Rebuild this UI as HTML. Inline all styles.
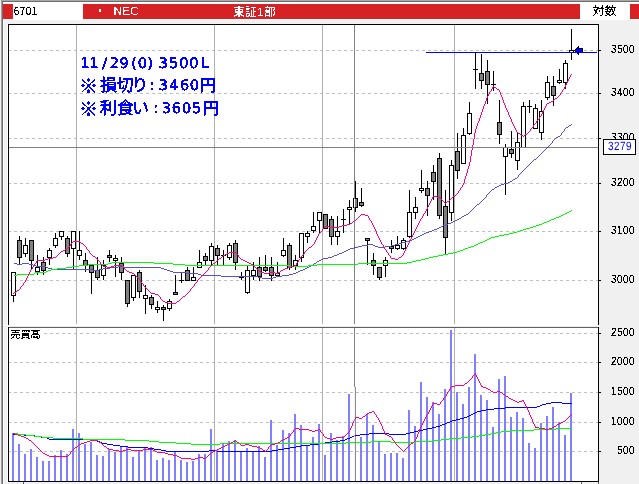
<!DOCTYPE html>
<html lang="ja"><head><meta charset="utf-8"><title>6701 NEC</title>
<style>html,body{margin:0;padding:0;background:#f0f0f0;overflow:hidden}svg{display:block}text{font-family:"Liberation Sans","Noto Sans CJK JP",sans-serif}.ax{font-size:12px;fill:#000}.big{fill:#0000ff;stroke:#0000ff;stroke-linejoin:round}</style></head><body>
<svg width="639" height="484" viewBox="0 0 639 484" shape-rendering="crispEdges">
<defs><filter id="th" x="0" y="0" width="100%" height="100%" filterUnits="userSpaceOnUse" color-interpolation-filters="sRGB"><feComponentTransfer><feFuncA type="discrete" tableValues="0 0 1 1 1"/></feComponentTransfer></filter><filter id="th2" x="0" y="0" width="100%" height="100%" filterUnits="userSpaceOnUse" color-interpolation-filters="sRGB"><feComponentTransfer><feFuncA type="discrete" tableValues="0 1"/></feComponentTransfer></filter></defs>
<rect x="0" y="0" width="639" height="484" fill="#f0f0f0"/>
<rect x="0" y="0" width="639" height="1" fill="#a8a8a8"/>
<rect x="0" y="1" width="639" height="1" fill="#6e6e6e"/>
<rect x="0" y="2" width="639" height="18" fill="#ffffff"/>
<rect x="0" y="0" width="1" height="484" fill="#efefef"/>
<rect x="1" y="0" width="1" height="484" fill="#a0a0a0"/>
<rect x="2" y="1" width="1" height="484" fill="#6e6e6e"/>
<rect x="3" y="2" width="1" height="484" fill="#fafafa"/>
<rect x="3" y="4" width="10" height="15" fill="#d62224"/>
<rect x="83" y="4" width="497" height="15" fill="#d62224"/>
<rect x="630" y="4" width="9" height="15" fill="#d62224"/>
<rect x="7" y="25" width="591" height="456" fill="#ffffff"/>
<rect x="3" y="325" width="596" height="1" fill="#ffffff"/>
<rect x="3" y="326" width="596" height="1" fill="#ececec"/>
<line x1="8" y1="50.5" x2="598" y2="50.5" stroke="#c0c0c0" stroke-width="1" stroke-dasharray="3 3"/>
<line x1="8" y1="93.5" x2="598" y2="93.5" stroke="#c0c0c0" stroke-width="1" stroke-dasharray="3 3"/>
<line x1="8" y1="138.5" x2="598" y2="138.5" stroke="#c0c0c0" stroke-width="1" stroke-dasharray="3 3"/>
<line x1="8" y1="183.5" x2="598" y2="183.5" stroke="#c0c0c0" stroke-width="1" stroke-dasharray="3 3"/>
<line x1="8" y1="231.5" x2="598" y2="231.5" stroke="#c0c0c0" stroke-width="1" stroke-dasharray="3 3"/>
<line x1="8" y1="280.5" x2="598" y2="280.5" stroke="#c0c0c0" stroke-width="1" stroke-dasharray="3 3"/>
<line x1="8" y1="333.5" x2="598" y2="333.5" stroke="#c0c0c0" stroke-width="1" stroke-dasharray="3 3"/>
<line x1="8" y1="362.5" x2="598" y2="362.5" stroke="#c0c0c0" stroke-width="1" stroke-dasharray="3 3"/>
<line x1="8" y1="392.5" x2="598" y2="392.5" stroke="#c0c0c0" stroke-width="1" stroke-dasharray="3 3"/>
<line x1="8" y1="422.5" x2="598" y2="422.5" stroke="#c0c0c0" stroke-width="1" stroke-dasharray="3 3"/>
<line x1="8" y1="451.5" x2="598" y2="451.5" stroke="#c0c0c0" stroke-width="1" stroke-dasharray="3 3"/>
<rect x="76" y="25" width="1" height="299" fill="#b0b0b0"/>
<rect x="76" y="328" width="1" height="153" fill="#b0b0b0"/>
<rect x="214" y="25" width="1" height="299" fill="#b0b0b0"/>
<rect x="214" y="328" width="1" height="153" fill="#b0b0b0"/>
<rect x="322" y="25" width="1" height="299" fill="#b0b0b0"/>
<rect x="322" y="328" width="1" height="153" fill="#b0b0b0"/>
<rect x="454" y="25" width="1" height="299" fill="#b0b0b0"/>
<rect x="454" y="328" width="1" height="153" fill="#b0b0b0"/>
<rect x="12" y="433" width="2" height="48" fill="#8080ff"/>
<rect x="18" y="444" width="2" height="37" fill="#8080ff"/>
<rect x="24" y="454" width="2" height="27" fill="#8080ff"/>
<rect x="30" y="449" width="2" height="32" fill="#8080ff"/>
<rect x="36" y="457" width="2" height="24" fill="#8080ff"/>
<rect x="42" y="461" width="2" height="20" fill="#8080ff"/>
<rect x="48" y="461" width="2" height="20" fill="#8080ff"/>
<rect x="54" y="455" width="2" height="26" fill="#8080ff"/>
<rect x="60" y="450" width="2" height="31" fill="#8080ff"/>
<rect x="66" y="454" width="2" height="27" fill="#8080ff"/>
<rect x="72" y="429" width="2" height="52" fill="#8080ff"/>
<rect x="78" y="433" width="2" height="48" fill="#8080ff"/>
<rect x="84" y="444" width="2" height="37" fill="#8080ff"/>
<rect x="90" y="442" width="2" height="39" fill="#8080ff"/>
<rect x="96" y="455" width="2" height="26" fill="#8080ff"/>
<rect x="102" y="456" width="2" height="25" fill="#8080ff"/>
<rect x="108" y="449" width="2" height="32" fill="#8080ff"/>
<rect x="114" y="452" width="2" height="29" fill="#8080ff"/>
<rect x="120" y="447" width="2" height="34" fill="#8080ff"/>
<rect x="126" y="447" width="2" height="34" fill="#8080ff"/>
<rect x="132" y="457" width="2" height="24" fill="#8080ff"/>
<rect x="138" y="450" width="2" height="31" fill="#8080ff"/>
<rect x="144" y="448" width="2" height="33" fill="#8080ff"/>
<rect x="150" y="447" width="2" height="34" fill="#8080ff"/>
<rect x="156" y="460" width="2" height="21" fill="#8080ff"/>
<rect x="162" y="458" width="2" height="23" fill="#8080ff"/>
<rect x="168" y="460" width="2" height="21" fill="#8080ff"/>
<rect x="174" y="452" width="2" height="29" fill="#8080ff"/>
<rect x="180" y="460" width="2" height="21" fill="#8080ff"/>
<rect x="186" y="462" width="2" height="19" fill="#8080ff"/>
<rect x="192" y="461" width="2" height="20" fill="#8080ff"/>
<rect x="198" y="454" width="2" height="27" fill="#8080ff"/>
<rect x="204" y="454" width="2" height="27" fill="#8080ff"/>
<rect x="210" y="429" width="2" height="52" fill="#8080ff"/>
<rect x="216" y="450" width="2" height="31" fill="#8080ff"/>
<rect x="222" y="444" width="2" height="37" fill="#8080ff"/>
<rect x="228" y="441" width="2" height="40" fill="#8080ff"/>
<rect x="234" y="440" width="2" height="41" fill="#8080ff"/>
<rect x="240" y="452" width="2" height="29" fill="#8080ff"/>
<rect x="246" y="448" width="2" height="33" fill="#8080ff"/>
<rect x="252" y="452" width="2" height="29" fill="#8080ff"/>
<rect x="258" y="446" width="2" height="35" fill="#8080ff"/>
<rect x="264" y="457" width="2" height="24" fill="#8080ff"/>
<rect x="270" y="420" width="2" height="61" fill="#8080ff"/>
<rect x="276" y="445" width="2" height="36" fill="#8080ff"/>
<rect x="282" y="430" width="2" height="51" fill="#8080ff"/>
<rect x="288" y="433" width="2" height="48" fill="#8080ff"/>
<rect x="294" y="414" width="2" height="67" fill="#8080ff"/>
<rect x="300" y="425" width="2" height="56" fill="#8080ff"/>
<rect x="306" y="446" width="2" height="35" fill="#8080ff"/>
<rect x="312" y="437" width="2" height="44" fill="#8080ff"/>
<rect x="318" y="424" width="2" height="57" fill="#8080ff"/>
<rect x="324" y="455" width="2" height="26" fill="#8080ff"/>
<rect x="330" y="433" width="2" height="48" fill="#8080ff"/>
<rect x="336" y="440" width="2" height="41" fill="#8080ff"/>
<rect x="342" y="436" width="2" height="45" fill="#8080ff"/>
<rect x="348" y="394" width="2" height="87" fill="#8080ff"/>
<rect x="354" y="387" width="2" height="94" fill="#8080ff"/>
<rect x="360" y="437" width="2" height="44" fill="#8080ff"/>
<rect x="366" y="414" width="2" height="67" fill="#8080ff"/>
<rect x="372" y="425" width="2" height="56" fill="#8080ff"/>
<rect x="378" y="442" width="2" height="39" fill="#8080ff"/>
<rect x="384" y="454" width="2" height="27" fill="#8080ff"/>
<rect x="390" y="453" width="2" height="28" fill="#8080ff"/>
<rect x="396" y="453" width="2" height="28" fill="#8080ff"/>
<rect x="402" y="458" width="2" height="23" fill="#8080ff"/>
<rect x="408" y="410" width="2" height="71" fill="#8080ff"/>
<rect x="414" y="426" width="2" height="55" fill="#8080ff"/>
<rect x="420" y="382" width="2" height="99" fill="#8080ff"/>
<rect x="426" y="397" width="2" height="84" fill="#8080ff"/>
<rect x="432" y="402" width="2" height="79" fill="#8080ff"/>
<rect x="438" y="414" width="2" height="67" fill="#8080ff"/>
<rect x="444" y="389" width="2" height="92" fill="#8080ff"/>
<rect x="450" y="330" width="2" height="151" fill="#8080ff"/>
<rect x="456" y="392" width="2" height="89" fill="#8080ff"/>
<rect x="462" y="404" width="2" height="77" fill="#8080ff"/>
<rect x="468" y="387" width="2" height="94" fill="#8080ff"/>
<rect x="474" y="354" width="2" height="127" fill="#8080ff"/>
<rect x="480" y="395" width="2" height="86" fill="#8080ff"/>
<rect x="486" y="400" width="2" height="81" fill="#8080ff"/>
<rect x="492" y="427" width="2" height="54" fill="#8080ff"/>
<rect x="498" y="379" width="2" height="102" fill="#8080ff"/>
<rect x="504" y="376" width="2" height="105" fill="#8080ff"/>
<rect x="510" y="417" width="2" height="64" fill="#8080ff"/>
<rect x="516" y="412" width="2" height="69" fill="#8080ff"/>
<rect x="522" y="418" width="2" height="63" fill="#8080ff"/>
<rect x="528" y="443" width="2" height="38" fill="#8080ff"/>
<rect x="534" y="448" width="2" height="33" fill="#8080ff"/>
<rect x="540" y="423" width="2" height="58" fill="#8080ff"/>
<rect x="546" y="416" width="2" height="65" fill="#8080ff"/>
<rect x="552" y="407" width="2" height="74" fill="#8080ff"/>
<rect x="558" y="422" width="2" height="59" fill="#8080ff"/>
<rect x="564" y="435" width="2" height="46" fill="#8080ff"/>
<rect x="570" y="393" width="2" height="88" fill="#8080ff"/>
<path d="M551 402h11v1h-11zM546 403h5v1h-5zM562 403h10v1h-10zM542 404h4v1h-4zM540 405h2v1h-2zM537 406h3v1h-3zM505 407h32v1h-32zM494 408h11v1h-11zM486 409h8v1h-8zM481 410h5v1h-5zM477 411h4v1h-4zM475 412h2v1h-2zM473 413h2v1h-2zM471 414h2v1h-2zM469 415h2v1h-2zM467 416h2v1h-2zM464 417h3v1h-3zM460 418h4v1h-4zM456 419h4v1h-4zM452 420h4v1h-4zM450 421h2v1h-2zM447 422h3v1h-3zM445 423h2v1h-2zM442 424h3v1h-3zM440 425h2v1h-2zM436 426h4v1h-4zM432 427h4v1h-4zM427 428h5v1h-5zM423 429h4v1h-4zM418 430h5v1h-5zM414 431h4v1h-4zM410 432h4v1h-4zM369 433h20v1h-20zM406 433h4v1h-4zM13 434h11v1h-11zM360 434h9v1h-9zM389 434h17v1h-17zM24 435h11v1h-11zM354 435h6v1h-6zM35 436h6v1h-6zM352 436h2v1h-2zM41 437h6v1h-6zM350 437h2v1h-2zM47 438h2v1h-2zM347 438h3v1h-3zM49 439h45v1h-45zM345 439h2v1h-2zM94 440h3v1h-3zM340 440h5v1h-5zM97 441h3v1h-3zM332 441h8v1h-8zM100 442h2v1h-2zM325 442h7v1h-7zM102 443h5v1h-5zM319 443h6v1h-6zM107 444h6v1h-6zM310 444h9v1h-9zM113 445h7v1h-7zM301 445h9v1h-9zM120 446h8v1h-8zM296 446h5v1h-5zM128 447h20v1h-20zM290 447h6v1h-6zM148 448h6v1h-6zM284 448h6v1h-6zM154 449h7v1h-7zM278 449h6v1h-6zM161 450h5v1h-5zM209 450h8v1h-8zM272 450h6v1h-6zM166 451h43v1h-43zM217 451h55v1h-55z" fill="#0000ff"/>
<path d="M556 428h16v1h-16zM534 429h22v1h-22zM511 430h23v1h-23zM501 431h10v1h-10zM496 432h5v1h-5zM13 433h5v1h-5zM491 433h5v1h-5zM18 434h8v1h-8zM485 434h6v1h-6zM26 435h8v1h-8zM479 435h6v1h-6zM34 436h8v1h-8zM472 436h7v1h-7zM42 437h11v1h-11zM461 437h11v1h-11zM53 438h30v1h-30zM449 438h12v1h-12zM83 439h42v1h-42zM441 439h8v1h-8zM125 440h24v1h-24zM433 440h8v1h-8zM149 441h10v1h-10zM371 441h20v1h-20zM416 441h17v1h-17zM159 442h17v1h-17zM346 442h25v1h-25zM391 442h25v1h-25zM176 443h15v1h-15zM220 443h126v1h-126zM191 444h29v1h-29z" fill="#00ff00"/>
<path d="M475 373h1v1h-1zM474 374h2v1h-2zM473 375h1v1h-1zM476 375h1v1h-1zM472 376h1v1h-1zM476 376h1v1h-1zM472 377h1v1h-1zM477 377h1v1h-1zM471 378h1v1h-1zM477 378h1v1h-1zM470 379h1v1h-1zM478 379h1v1h-1zM469 380h1v1h-1zM478 380h1v1h-1zM468 381h1v1h-1zM479 381h1v1h-1zM467 382h1v1h-1zM479 382h1v1h-1zM465 383h2v1h-2zM480 383h1v1h-1zM464 384h1v1h-1zM480 384h1v1h-1zM455 385h9v1h-9zM481 385h1v1h-1zM451 386h4v1h-4zM481 386h2v1h-2zM450 387h1v1h-1zM483 387h3v1h-3zM450 388h1v1h-1zM486 388h2v1h-2zM449 389h1v1h-1zM488 389h2v1h-2zM449 390h1v1h-1zM490 390h1v1h-1zM448 391h1v1h-1zM491 391h2v1h-2zM497 391h3v1h-3zM447 392h1v1h-1zM493 392h4v1h-4zM500 392h2v1h-2zM447 393h1v1h-1zM502 393h1v1h-1zM446 394h1v1h-1zM503 394h2v1h-2zM446 395h1v1h-1zM505 395h1v1h-1zM445 396h1v1h-1zM506 396h2v1h-2zM444 397h1v1h-1zM508 397h1v1h-1zM443 398h1v1h-1zM509 398h2v1h-2zM443 399h1v1h-1zM511 399h2v1h-2zM442 400h1v1h-1zM513 400h2v1h-2zM522 400h2v1h-2zM441 401h1v1h-1zM515 401h2v1h-2zM519 401h3v1h-3zM523 401h1v1h-1zM440 402h1v1h-1zM517 402h2v1h-2zM524 402h1v1h-1zM433 403h4v1h-4zM440 403h1v1h-1zM524 403h1v1h-1zM432 404h1v1h-1zM437 404h3v1h-3zM525 404h1v1h-1zM432 405h1v1h-1zM525 405h1v1h-1zM431 406h1v1h-1zM526 406h1v1h-1zM431 407h1v1h-1zM526 407h1v1h-1zM430 408h1v1h-1zM527 408h1v1h-1zM430 409h1v1h-1zM527 409h1v1h-1zM429 410h1v1h-1zM528 410h1v1h-1zM372 411h2v1h-2zM429 411h1v1h-1zM528 411h1v1h-1zM369 412h3v1h-3zM374 412h1v1h-1zM428 412h1v1h-1zM529 412h1v1h-1zM367 413h2v1h-2zM374 413h1v1h-1zM428 413h1v1h-1zM529 413h1v1h-1zM366 414h1v1h-1zM375 414h1v1h-1zM427 414h1v1h-1zM529 414h1v1h-1zM571 414h1v1h-1zM365 415h1v1h-1zM376 415h1v1h-1zM426 415h1v1h-1zM530 415h1v1h-1zM570 415h1v1h-1zM363 416h2v1h-2zM376 416h1v1h-1zM426 416h1v1h-1zM530 416h1v1h-1zM569 416h1v1h-1zM355 417h4v1h-4zM362 417h1v1h-1zM377 417h1v1h-1zM425 417h1v1h-1zM531 417h1v1h-1zM568 417h1v1h-1zM355 418h1v1h-1zM359 418h3v1h-3zM378 418h1v1h-1zM425 418h1v1h-1zM531 418h1v1h-1zM567 418h1v1h-1zM354 419h1v1h-1zM378 419h1v1h-1zM424 419h1v1h-1zM532 419h1v1h-1zM566 419h1v1h-1zM354 420h1v1h-1zM379 420h1v1h-1zM424 420h1v1h-1zM532 420h1v1h-1zM565 420h1v1h-1zM353 421h1v1h-1zM379 421h1v1h-1zM423 421h1v1h-1zM532 421h1v1h-1zM563 421h2v1h-2zM353 422h1v1h-1zM380 422h1v1h-1zM423 422h1v1h-1zM533 422h1v1h-1zM561 422h2v1h-2zM352 423h1v1h-1zM380 423h1v1h-1zM422 423h1v1h-1zM533 423h1v1h-1zM559 423h2v1h-2zM352 424h1v1h-1zM381 424h1v1h-1zM422 424h1v1h-1zM534 424h1v1h-1zM557 424h2v1h-2zM352 425h1v1h-1zM381 425h1v1h-1zM421 425h1v1h-1zM534 425h1v1h-1zM556 425h1v1h-1zM351 426h1v1h-1zM382 426h1v1h-1zM421 426h1v1h-1zM535 426h1v1h-1zM554 426h2v1h-2zM351 427h1v1h-1zM382 427h1v1h-1zM420 427h1v1h-1zM535 427h4v1h-4zM552 427h2v1h-2zM295 428h4v1h-4zM350 428h1v1h-1zM382 428h1v1h-1zM420 428h1v1h-1zM539 428h6v1h-6zM549 428h3v1h-3zM294 429h1v1h-1zM299 429h10v1h-10zM318 429h2v1h-2zM350 429h1v1h-1zM383 429h1v1h-1zM419 429h1v1h-1zM545 429h4v1h-4zM293 430h1v1h-1zM309 430h3v1h-3zM315 430h3v1h-3zM320 430h1v1h-1zM349 430h1v1h-1zM383 430h1v1h-1zM419 430h1v1h-1zM293 431h1v1h-1zM312 431h3v1h-3zM320 431h1v1h-1zM349 431h1v1h-1zM384 431h1v1h-1zM419 431h1v1h-1zM292 432h1v1h-1zM321 432h1v1h-1zM348 432h1v1h-1zM384 432h1v1h-1zM418 432h1v1h-1zM13 433h2v1h-2zM291 433h1v1h-1zM322 433h1v1h-1zM347 433h1v1h-1zM385 433h1v1h-1zM418 433h1v1h-1zM15 434h3v1h-3zM290 434h1v1h-1zM323 434h1v1h-1zM346 434h1v1h-1zM385 434h2v1h-2zM417 434h1v1h-1zM18 435h3v1h-3zM290 435h1v1h-1zM323 435h1v1h-1zM345 435h1v1h-1zM387 435h2v1h-2zM417 435h1v1h-1zM21 436h3v1h-3zM289 436h1v1h-1zM324 436h1v1h-1zM344 436h1v1h-1zM389 436h2v1h-2zM417 436h1v1h-1zM24 437h2v1h-2zM287 437h2v1h-2zM325 437h2v1h-2zM336 437h8v1h-8zM391 437h1v1h-1zM416 437h1v1h-1zM26 438h2v1h-2zM285 438h2v1h-2zM327 438h3v1h-3zM333 438h3v1h-3zM392 438h1v1h-1zM416 438h1v1h-1zM28 439h1v1h-1zM283 439h2v1h-2zM330 439h3v1h-3zM392 439h1v1h-1zM415 439h1v1h-1zM29 440h2v1h-2zM90 440h8v1h-8zM235 440h1v1h-1zM281 440h2v1h-2zM393 440h1v1h-1zM415 440h1v1h-1zM31 441h1v1h-1zM87 441h3v1h-3zM98 441h1v1h-1zM233 441h2v1h-2zM236 441h1v1h-1zM280 441h1v1h-1zM394 441h1v1h-1zM414 441h1v1h-1zM32 442h1v1h-1zM84 442h3v1h-3zM99 442h2v1h-2zM231 442h2v1h-2zM237 442h2v1h-2zM278 442h2v1h-2zM395 442h1v1h-1zM413 442h1v1h-1zM33 443h1v1h-1zM81 443h3v1h-3zM101 443h1v1h-1zM229 443h2v1h-2zM239 443h1v1h-1zM275 443h3v1h-3zM395 443h1v1h-1zM411 443h2v1h-2zM34 444h1v1h-1zM79 444h2v1h-2zM102 444h1v1h-1zM227 444h2v1h-2zM240 444h1v1h-1zM245 444h4v1h-4zM271 444h4v1h-4zM396 444h1v1h-1zM410 444h1v1h-1zM35 445h1v1h-1zM78 445h1v1h-1zM103 445h1v1h-1zM225 445h2v1h-2zM241 445h4v1h-4zM249 445h3v1h-3zM270 445h1v1h-1zM397 445h1v1h-1zM409 445h1v1h-1zM36 446h1v1h-1zM77 446h1v1h-1zM104 446h2v1h-2zM223 446h2v1h-2zM252 446h5v1h-5zM269 446h1v1h-1zM398 446h1v1h-1zM408 446h1v1h-1zM37 447h1v1h-1zM75 447h2v1h-2zM106 447h1v1h-1zM221 447h2v1h-2zM257 447h3v1h-3zM268 447h1v1h-1zM399 447h1v1h-1zM407 447h1v1h-1zM38 448h1v1h-1zM74 448h1v1h-1zM107 448h2v1h-2zM219 448h2v1h-2zM260 448h2v1h-2zM268 448h1v1h-1zM400 448h1v1h-1zM406 448h1v1h-1zM39 449h1v1h-1zM73 449h1v1h-1zM109 449h4v1h-4zM126 449h5v1h-5zM143 449h10v1h-10zM217 449h2v1h-2zM262 449h1v1h-1zM267 449h1v1h-1zM401 449h1v1h-1zM405 449h1v1h-1zM40 450h1v1h-1zM72 450h1v1h-1zM113 450h6v1h-6zM123 450h3v1h-3zM131 450h12v1h-12zM153 450h2v1h-2zM215 450h2v1h-2zM263 450h2v1h-2zM266 450h1v1h-1zM402 450h1v1h-1zM404 450h1v1h-1zM41 451h1v1h-1zM71 451h1v1h-1zM119 451h4v1h-4zM155 451h2v1h-2zM213 451h2v1h-2zM265 451h1v1h-1zM403 451h1v1h-1zM42 452h1v1h-1zM70 452h1v1h-1zM157 452h8v1h-8zM211 452h2v1h-2zM43 453h2v1h-2zM70 453h1v1h-1zM165 453h3v1h-3zM210 453h1v1h-1zM45 454h2v1h-2zM69 454h1v1h-1zM168 454h5v1h-5zM209 454h1v1h-1zM47 455h2v1h-2zM68 455h1v1h-1zM173 455h4v1h-4zM208 455h1v1h-1zM49 456h19v1h-19zM177 456h2v1h-2zM207 456h1v1h-1zM179 457h2v1h-2zM198 457h5v1h-5zM206 457h1v1h-1zM181 458h10v1h-10zM195 458h3v1h-3zM203 458h3v1h-3zM191 459h4v1h-4z" fill="#ff0080"/>
<rect x="13" y="272" width="1" height="30" fill="#000"/>
<rect x="11" y="272" width="5" height="24" fill="#000"/>
<rect x="12" y="273" width="3" height="22" fill="#fff"/>
<rect x="19" y="236" width="1" height="29" fill="#000"/>
<rect x="17" y="240" width="5" height="18" fill="#000"/>
<rect x="18" y="241" width="3" height="16" fill="#808080"/>
<rect x="25" y="238" width="1" height="19" fill="#000"/>
<rect x="23" y="245" width="5" height="9" fill="#000"/>
<rect x="24" y="246" width="3" height="7" fill="#fff"/>
<rect x="31" y="240" width="1" height="29" fill="#000"/>
<rect x="29" y="240" width="5" height="21" fill="#000"/>
<rect x="30" y="241" width="3" height="19" fill="#808080"/>
<rect x="37" y="255" width="1" height="20" fill="#000"/>
<rect x="35" y="267" width="5" height="5" fill="#000"/>
<rect x="36" y="268" width="3" height="3" fill="#fff"/>
<rect x="43" y="257" width="1" height="18" fill="#000"/>
<rect x="41" y="262" width="5" height="9" fill="#000"/>
<rect x="42" y="263" width="3" height="7" fill="#808080"/>
<rect x="49" y="248" width="1" height="17" fill="#000"/>
<rect x="47" y="250" width="5" height="8" fill="#000"/>
<rect x="48" y="251" width="3" height="6" fill="#fff"/>
<rect x="55" y="233" width="1" height="15" fill="#000"/>
<rect x="53" y="238" width="5" height="8" fill="#000"/>
<rect x="54" y="239" width="3" height="6" fill="#fff"/>
<rect x="61" y="231" width="1" height="9" fill="#000"/>
<rect x="59" y="231" width="5" height="6" fill="#000"/>
<rect x="60" y="232" width="3" height="4" fill="#fff"/>
<rect x="67" y="236" width="1" height="21" fill="#000"/>
<rect x="65" y="238" width="5" height="16" fill="#000"/>
<rect x="66" y="239" width="3" height="14" fill="#808080"/>
<rect x="73" y="231" width="1" height="39" fill="#000"/>
<rect x="71" y="231" width="5" height="18" fill="#000"/>
<rect x="72" y="232" width="3" height="16" fill="#fff"/>
<rect x="79" y="231" width="1" height="29" fill="#000"/>
<rect x="77" y="250" width="5" height="6" fill="#000"/>
<rect x="78" y="251" width="3" height="4" fill="#fff"/>
<rect x="85" y="253" width="1" height="19" fill="#000"/>
<rect x="83" y="260" width="5" height="6" fill="#000"/>
<rect x="84" y="261" width="3" height="4" fill="#808080"/>
<rect x="91" y="265" width="1" height="29" fill="#000"/>
<rect x="89" y="265" width="5" height="8" fill="#000"/>
<rect x="90" y="266" width="3" height="6" fill="#808080"/>
<rect x="97" y="257" width="1" height="23" fill="#000"/>
<rect x="95" y="270" width="5" height="8" fill="#000"/>
<rect x="96" y="271" width="3" height="6" fill="#808080"/>
<rect x="103" y="260" width="1" height="20" fill="#000"/>
<rect x="101" y="265" width="5" height="11" fill="#000"/>
<rect x="102" y="266" width="3" height="9" fill="#fff"/>
<rect x="109" y="250" width="1" height="12" fill="#000"/>
<rect x="107" y="255" width="5" height="3" fill="#000"/>
<rect x="108" y="256" width="3" height="1" fill="#808080"/>
<rect x="115" y="255" width="1" height="22" fill="#000"/>
<rect x="113" y="258" width="5" height="3" fill="#000"/>
<rect x="114" y="259" width="3" height="1" fill="#fff"/>
<rect x="121" y="257" width="1" height="23" fill="#000"/>
<rect x="119" y="263" width="5" height="10" fill="#000"/>
<rect x="120" y="264" width="3" height="8" fill="#808080"/>
<rect x="127" y="280" width="1" height="27" fill="#000"/>
<rect x="125" y="280" width="5" height="24" fill="#000"/>
<rect x="126" y="281" width="3" height="22" fill="#808080"/>
<rect x="133" y="275" width="1" height="26" fill="#000"/>
<rect x="131" y="275" width="5" height="23" fill="#000"/>
<rect x="132" y="276" width="3" height="21" fill="#fff"/>
<rect x="139" y="270" width="1" height="28" fill="#000"/>
<rect x="137" y="272" width="5" height="20" fill="#000"/>
<rect x="138" y="273" width="3" height="18" fill="#808080"/>
<rect x="145" y="285" width="1" height="29" fill="#000"/>
<rect x="143" y="295" width="5" height="4" fill="#000"/>
<rect x="144" y="296" width="3" height="2" fill="#fff"/>
<rect x="151" y="295" width="1" height="14" fill="#000"/>
<rect x="149" y="297" width="5" height="8" fill="#000"/>
<rect x="150" y="298" width="3" height="6" fill="#808080"/>
<rect x="157" y="301" width="1" height="12" fill="#000"/>
<rect x="155" y="307" width="5" height="3" fill="#000"/>
<rect x="156" y="308" width="3" height="1" fill="#fff"/>
<rect x="163" y="305" width="1" height="16" fill="#000"/>
<rect x="161" y="307" width="5" height="3" fill="#000"/>
<rect x="162" y="308" width="3" height="1" fill="#808080"/>
<rect x="169" y="299" width="1" height="12" fill="#000"/>
<rect x="167" y="301" width="5" height="8" fill="#000"/>
<rect x="168" y="302" width="3" height="6" fill="#fff"/>
<rect x="175" y="275" width="1" height="20" fill="#000"/>
<rect x="173" y="292" width="5" height="3" fill="#000"/>
<rect x="174" y="293" width="3" height="1" fill="#808080"/>
<rect x="181" y="273" width="1" height="10" fill="#000"/>
<rect x="179" y="280" width="5" height="1" fill="#000"/>
<rect x="187" y="267" width="1" height="14" fill="#000"/>
<rect x="185" y="270" width="5" height="11" fill="#000"/>
<rect x="186" y="271" width="3" height="9" fill="#808080"/>
<rect x="193" y="267" width="1" height="14" fill="#000"/>
<rect x="191" y="277" width="5" height="4" fill="#000"/>
<rect x="192" y="278" width="3" height="2" fill="#fff"/>
<rect x="199" y="250" width="1" height="18" fill="#000"/>
<rect x="197" y="262" width="5" height="6" fill="#000"/>
<rect x="198" y="263" width="3" height="4" fill="#fff"/>
<rect x="205" y="253" width="1" height="12" fill="#000"/>
<rect x="203" y="256" width="5" height="5" fill="#000"/>
<rect x="204" y="257" width="3" height="3" fill="#808080"/>
<rect x="211" y="243" width="1" height="22" fill="#000"/>
<rect x="209" y="246" width="5" height="15" fill="#000"/>
<rect x="210" y="247" width="3" height="13" fill="#fff"/>
<rect x="217" y="245" width="1" height="20" fill="#000"/>
<rect x="215" y="248" width="5" height="8" fill="#000"/>
<rect x="216" y="249" width="3" height="6" fill="#808080"/>
<rect x="223" y="250" width="1" height="15" fill="#000"/>
<rect x="221" y="255" width="5" height="1" fill="#000"/>
<rect x="229" y="243" width="1" height="17" fill="#000"/>
<rect x="227" y="245" width="5" height="13" fill="#000"/>
<rect x="228" y="246" width="3" height="11" fill="#fff"/>
<rect x="235" y="240" width="1" height="30" fill="#000"/>
<rect x="233" y="243" width="5" height="20" fill="#000"/>
<rect x="234" y="244" width="3" height="18" fill="#808080"/>
<rect x="241" y="272" width="1" height="8" fill="#000"/>
<rect x="239" y="277" width="5" height="1" fill="#000"/>
<rect x="247" y="266" width="1" height="28" fill="#000"/>
<rect x="245" y="270" width="5" height="23" fill="#000"/>
<rect x="246" y="271" width="3" height="21" fill="#fff"/>
<rect x="253" y="262" width="1" height="18" fill="#000"/>
<rect x="251" y="270" width="5" height="6" fill="#000"/>
<rect x="252" y="271" width="3" height="4" fill="#fff"/>
<rect x="259" y="257" width="1" height="24" fill="#000"/>
<rect x="257" y="267" width="5" height="10" fill="#000"/>
<rect x="258" y="268" width="3" height="8" fill="#808080"/>
<rect x="265" y="255" width="1" height="17" fill="#000"/>
<rect x="263" y="267" width="5" height="4" fill="#000"/>
<rect x="264" y="268" width="3" height="2" fill="#808080"/>
<rect x="271" y="257" width="1" height="24" fill="#000"/>
<rect x="269" y="267" width="5" height="9" fill="#000"/>
<rect x="270" y="268" width="3" height="7" fill="#808080"/>
<rect x="277" y="262" width="1" height="14" fill="#000"/>
<rect x="275" y="273" width="5" height="3" fill="#000"/>
<rect x="276" y="274" width="3" height="1" fill="#fff"/>
<rect x="283" y="238" width="1" height="19" fill="#000"/>
<rect x="281" y="250" width="5" height="6" fill="#000"/>
<rect x="282" y="251" width="3" height="4" fill="#fff"/>
<rect x="289" y="243" width="1" height="27" fill="#000"/>
<rect x="287" y="245" width="5" height="23" fill="#000"/>
<rect x="288" y="246" width="3" height="21" fill="#808080"/>
<rect x="295" y="255" width="1" height="15" fill="#000"/>
<rect x="293" y="260" width="5" height="6" fill="#000"/>
<rect x="294" y="261" width="3" height="4" fill="#fff"/>
<rect x="301" y="233" width="1" height="29" fill="#000"/>
<rect x="299" y="233" width="5" height="25" fill="#000"/>
<rect x="300" y="234" width="3" height="23" fill="#fff"/>
<rect x="307" y="231" width="1" height="12" fill="#000"/>
<rect x="305" y="233" width="5" height="4" fill="#000"/>
<rect x="306" y="234" width="3" height="2" fill="#fff"/>
<rect x="313" y="212" width="1" height="21" fill="#000"/>
<rect x="311" y="226" width="5" height="5" fill="#000"/>
<rect x="312" y="227" width="3" height="3" fill="#fff"/>
<rect x="319" y="212" width="1" height="22" fill="#000"/>
<rect x="317" y="212" width="5" height="9" fill="#000"/>
<rect x="318" y="213" width="3" height="7" fill="#fff"/>
<rect x="325" y="214" width="1" height="15" fill="#000"/>
<rect x="323" y="214" width="5" height="15" fill="#000"/>
<rect x="324" y="215" width="3" height="13" fill="#808080"/>
<rect x="331" y="216" width="1" height="29" fill="#000"/>
<rect x="329" y="219" width="5" height="18" fill="#000"/>
<rect x="330" y="220" width="3" height="16" fill="#808080"/>
<rect x="337" y="216" width="1" height="29" fill="#000"/>
<rect x="335" y="231" width="5" height="6" fill="#000"/>
<rect x="336" y="232" width="3" height="4" fill="#fff"/>
<rect x="343" y="209" width="1" height="24" fill="#000"/>
<rect x="341" y="219" width="5" height="1" fill="#000"/>
<rect x="349" y="200" width="1" height="25" fill="#000"/>
<rect x="347" y="207" width="5" height="3" fill="#000"/>
<rect x="348" y="208" width="3" height="1" fill="#fff"/>
<rect x="355" y="181" width="1" height="31" fill="#000"/>
<rect x="353" y="198" width="5" height="10" fill="#000"/>
<rect x="354" y="199" width="3" height="8" fill="#808080"/>
<rect x="361" y="188" width="1" height="19" fill="#000"/>
<rect x="359" y="202" width="5" height="4" fill="#000"/>
<rect x="360" y="203" width="3" height="2" fill="#808080"/>
<rect x="367" y="238" width="1" height="27" fill="#000"/>
<rect x="365" y="238" width="5" height="3" fill="#000"/>
<rect x="366" y="239" width="3" height="1" fill="#808080"/>
<rect x="373" y="253" width="1" height="22" fill="#000"/>
<rect x="371" y="260" width="5" height="6" fill="#000"/>
<rect x="372" y="261" width="3" height="4" fill="#808080"/>
<rect x="379" y="267" width="1" height="13" fill="#000"/>
<rect x="377" y="267" width="5" height="11" fill="#000"/>
<rect x="378" y="268" width="3" height="9" fill="#808080"/>
<rect x="385" y="257" width="1" height="20" fill="#000"/>
<rect x="383" y="260" width="5" height="6" fill="#000"/>
<rect x="384" y="261" width="3" height="4" fill="#fff"/>
<rect x="391" y="240" width="1" height="13" fill="#000"/>
<rect x="389" y="246" width="5" height="3" fill="#000"/>
<rect x="390" y="247" width="3" height="1" fill="#808080"/>
<rect x="397" y="236" width="1" height="14" fill="#000"/>
<rect x="395" y="245" width="5" height="4" fill="#000"/>
<rect x="396" y="246" width="3" height="2" fill="#fff"/>
<rect x="403" y="238" width="1" height="12" fill="#000"/>
<rect x="401" y="240" width="5" height="9" fill="#000"/>
<rect x="402" y="241" width="3" height="7" fill="#fff"/>
<rect x="409" y="190" width="1" height="48" fill="#000"/>
<rect x="407" y="212" width="5" height="25" fill="#000"/>
<rect x="408" y="213" width="3" height="23" fill="#fff"/>
<rect x="415" y="197" width="1" height="22" fill="#000"/>
<rect x="413" y="207" width="5" height="6" fill="#000"/>
<rect x="414" y="208" width="3" height="4" fill="#fff"/>
<rect x="421" y="170" width="1" height="23" fill="#000"/>
<rect x="419" y="188" width="5" height="3" fill="#000"/>
<rect x="420" y="189" width="3" height="1" fill="#fff"/>
<rect x="427" y="181" width="1" height="35" fill="#000"/>
<rect x="425" y="188" width="5" height="8" fill="#000"/>
<rect x="426" y="189" width="3" height="6" fill="#808080"/>
<rect x="433" y="165" width="1" height="35" fill="#000"/>
<rect x="431" y="172" width="5" height="10" fill="#000"/>
<rect x="432" y="173" width="3" height="8" fill="#808080"/>
<rect x="439" y="153" width="1" height="66" fill="#000"/>
<rect x="437" y="158" width="5" height="58" fill="#000"/>
<rect x="438" y="159" width="3" height="56" fill="#808080"/>
<rect x="445" y="190" width="1" height="65" fill="#000"/>
<rect x="443" y="206" width="5" height="32" fill="#000"/>
<rect x="444" y="207" width="3" height="30" fill="#808080"/>
<rect x="451" y="160" width="1" height="61" fill="#000"/>
<rect x="449" y="165" width="5" height="48" fill="#000"/>
<rect x="450" y="166" width="3" height="46" fill="#fff"/>
<rect x="457" y="133" width="1" height="46" fill="#000"/>
<rect x="455" y="151" width="5" height="20" fill="#000"/>
<rect x="456" y="152" width="3" height="18" fill="#808080"/>
<rect x="463" y="128" width="1" height="36" fill="#000"/>
<rect x="461" y="135" width="5" height="29" fill="#000"/>
<rect x="462" y="136" width="3" height="27" fill="#fff"/>
<rect x="469" y="102" width="1" height="33" fill="#000"/>
<rect x="467" y="113" width="5" height="21" fill="#000"/>
<rect x="468" y="114" width="3" height="19" fill="#fff"/>
<rect x="475" y="53" width="1" height="36" fill="#000"/>
<rect x="473" y="69" width="5" height="1" fill="#000"/>
<rect x="481" y="54" width="1" height="35" fill="#000"/>
<rect x="479" y="73" width="5" height="8" fill="#000"/>
<rect x="480" y="74" width="3" height="6" fill="#808080"/>
<rect x="487" y="60" width="1" height="44" fill="#000"/>
<rect x="485" y="71" width="5" height="14" fill="#000"/>
<rect x="486" y="72" width="3" height="12" fill="#808080"/>
<rect x="493" y="71" width="1" height="20" fill="#000"/>
<rect x="491" y="84" width="5" height="1" fill="#000"/>
<rect x="499" y="100" width="1" height="44" fill="#000"/>
<rect x="497" y="122" width="5" height="13" fill="#000"/>
<rect x="498" y="123" width="3" height="11" fill="#808080"/>
<rect x="505" y="144" width="1" height="51" fill="#000"/>
<rect x="503" y="147" width="5" height="10" fill="#000"/>
<rect x="504" y="148" width="3" height="8" fill="#fff"/>
<rect x="511" y="131" width="1" height="27" fill="#000"/>
<rect x="509" y="149" width="5" height="5" fill="#000"/>
<rect x="510" y="150" width="3" height="3" fill="#808080"/>
<rect x="517" y="133" width="1" height="37" fill="#000"/>
<rect x="515" y="142" width="5" height="19" fill="#000"/>
<rect x="516" y="143" width="3" height="17" fill="#fff"/>
<rect x="523" y="102" width="1" height="46" fill="#000"/>
<rect x="521" y="106" width="5" height="42" fill="#000"/>
<rect x="522" y="107" width="3" height="40" fill="#fff"/>
<rect x="529" y="100" width="1" height="13" fill="#000"/>
<rect x="527" y="106" width="5" height="1" fill="#000"/>
<rect x="535" y="104" width="1" height="25" fill="#000"/>
<rect x="533" y="108" width="5" height="21" fill="#000"/>
<rect x="534" y="109" width="3" height="19" fill="#fff"/>
<rect x="541" y="100" width="1" height="40" fill="#000"/>
<rect x="539" y="111" width="5" height="22" fill="#000"/>
<rect x="540" y="112" width="3" height="20" fill="#fff"/>
<rect x="547" y="76" width="1" height="24" fill="#000"/>
<rect x="545" y="82" width="5" height="16" fill="#000"/>
<rect x="546" y="83" width="3" height="14" fill="#fff"/>
<rect x="553" y="76" width="1" height="30" fill="#000"/>
<rect x="551" y="86" width="5" height="10" fill="#000"/>
<rect x="552" y="87" width="3" height="8" fill="#808080"/>
<rect x="559" y="69" width="1" height="15" fill="#000"/>
<rect x="557" y="80" width="5" height="3" fill="#000"/>
<rect x="558" y="81" width="3" height="1" fill="#fff"/>
<rect x="565" y="60" width="1" height="29" fill="#000"/>
<rect x="563" y="63" width="5" height="20" fill="#000"/>
<rect x="564" y="64" width="3" height="18" fill="#fff"/>
<rect x="571" y="29" width="1" height="31" fill="#000"/>
<rect x="569" y="50" width="5" height="3" fill="#000"/>
<rect x="570" y="51" width="3" height="1" fill="#fff"/>
<path d="M571 124h1v1h-1zM569 125h2v1h-2zM568 126h1v1h-1zM566 127h2v1h-2zM565 128h1v1h-1zM564 129h1v1h-1zM564 130h1v1h-1zM563 131h1v1h-1zM562 132h1v1h-1zM561 133h1v1h-1zM561 134h1v1h-1zM560 135h1v1h-1zM558 136h2v1h-2zM556 137h2v1h-2zM555 138h1v1h-1zM554 139h1v1h-1zM553 140h1v1h-1zM552 141h1v1h-1zM552 142h1v1h-1zM551 143h1v1h-1zM550 144h1v1h-1zM549 145h1v1h-1zM548 146h1v1h-1zM547 147h1v1h-1zM546 148h1v1h-1zM545 149h1v1h-1zM544 150h1v1h-1zM543 151h1v1h-1zM542 152h1v1h-1zM541 153h1v1h-1zM540 154h1v1h-1zM539 155h1v1h-1zM538 156h1v1h-1zM537 157h1v1h-1zM536 158h1v1h-1zM534 159h2v1h-2zM533 160h1v1h-1zM532 161h1v1h-1zM531 162h1v1h-1zM530 163h1v1h-1zM529 164h1v1h-1zM528 165h1v1h-1zM527 166h1v1h-1zM526 167h1v1h-1zM525 168h1v1h-1zM524 169h1v1h-1zM523 170h1v1h-1zM522 171h1v1h-1zM521 172h1v1h-1zM520 173h1v1h-1zM519 174h1v1h-1zM518 175h1v1h-1zM518 176h1v1h-1zM517 177h1v1h-1zM515 178h2v1h-2zM513 179h2v1h-2zM512 180h1v1h-1zM510 181h2v1h-2zM508 182h2v1h-2zM504 183h4v1h-4zM501 184h3v1h-3zM499 185h2v1h-2zM497 186h2v1h-2zM495 187h2v1h-2zM494 188h1v1h-1zM492 189h2v1h-2zM491 190h1v1h-1zM490 191h1v1h-1zM489 192h1v1h-1zM488 193h1v1h-1zM487 194h1v1h-1zM486 195h1v1h-1zM486 196h1v1h-1zM485 197h1v1h-1zM484 198h1v1h-1zM483 199h1v1h-1zM482 200h1v1h-1zM481 201h1v1h-1zM480 202h1v1h-1zM479 203h1v1h-1zM477 204h2v1h-2zM476 205h1v1h-1zM475 206h1v1h-1zM474 207h1v1h-1zM473 208h1v1h-1zM472 209h1v1h-1zM471 210h1v1h-1zM470 211h1v1h-1zM469 212h1v1h-1zM468 213h1v1h-1zM466 214h2v1h-2zM464 215h2v1h-2zM462 216h2v1h-2zM461 217h1v1h-1zM459 218h2v1h-2zM457 219h2v1h-2zM455 220h2v1h-2zM453 221h2v1h-2zM451 222h2v1h-2zM448 223h3v1h-3zM446 224h2v1h-2zM443 225h3v1h-3zM441 226h2v1h-2zM439 227h2v1h-2zM437 228h2v1h-2zM434 229h3v1h-3zM432 230h2v1h-2zM429 231h3v1h-3zM426 232h3v1h-3zM424 233h2v1h-2zM422 234h2v1h-2zM420 235h2v1h-2zM418 236h2v1h-2zM416 237h2v1h-2zM414 238h2v1h-2zM412 239h2v1h-2zM409 240h3v1h-3zM406 241h3v1h-3zM402 242h4v1h-4zM399 243h3v1h-3zM368 244h5v1h-5zM395 244h4v1h-4zM362 245h6v1h-6zM373 245h2v1h-2zM391 245h4v1h-4zM358 246h4v1h-4zM375 246h3v1h-3zM385 246h6v1h-6zM354 247h4v1h-4zM378 247h7v1h-7zM350 248h4v1h-4zM348 249h2v1h-2zM346 250h2v1h-2zM344 251h2v1h-2zM342 252h2v1h-2zM339 253h3v1h-3zM337 254h2v1h-2zM334 255h3v1h-3zM332 256h2v1h-2zM328 257h4v1h-4zM323 258h5v1h-5zM321 259h2v1h-2zM319 260h2v1h-2zM317 261h2v1h-2zM316 262h1v1h-1zM14 263h3v1h-3zM22 263h7v1h-7zM314 263h2v1h-2zM17 264h5v1h-5zM29 264h4v1h-4zM313 264h1v1h-1zM33 265h3v1h-3zM311 265h2v1h-2zM36 266h10v1h-10zM118 266h6v1h-6zM309 266h2v1h-2zM46 267h2v1h-2zM110 267h8v1h-8zM124 267h37v1h-37zM307 267h2v1h-2zM48 268h4v1h-4zM103 268h7v1h-7zM161 268h3v1h-3zM305 268h2v1h-2zM52 269h41v1h-41zM99 269h4v1h-4zM164 269h3v1h-3zM303 269h2v1h-2zM93 270h6v1h-6zM167 270h3v1h-3zM300 270h3v1h-3zM170 271h3v1h-3zM298 271h2v1h-2zM173 272h13v1h-13zM296 272h2v1h-2zM186 273h12v1h-12zM293 273h3v1h-3zM198 274h3v1h-3zM289 274h4v1h-4zM201 275h20v1h-20zM282 275h7v1h-7zM221 276h37v1h-37zM276 276h6v1h-6zM258 277h4v1h-4zM273 277h3v1h-3zM262 278h11v1h-11z" fill="#5a4fcf"/>
<path d="M571 210h1v1h-1zM569 211h2v1h-2zM567 212h2v1h-2zM565 213h2v1h-2zM563 214h2v1h-2zM561 215h2v1h-2zM559 216h2v1h-2zM556 217h3v1h-3zM554 218h2v1h-2zM551 219h3v1h-3zM549 220h2v1h-2zM547 221h2v1h-2zM544 222h3v1h-3zM542 223h2v1h-2zM539 224h3v1h-3zM536 225h3v1h-3zM533 226h3v1h-3zM530 227h3v1h-3zM526 228h4v1h-4zM523 229h3v1h-3zM520 230h3v1h-3zM517 231h3v1h-3zM513 232h4v1h-4zM509 233h4v1h-4zM504 234h5v1h-5zM499 235h5v1h-5zM495 236h4v1h-4zM491 237h4v1h-4zM489 238h2v1h-2zM487 239h2v1h-2zM485 240h2v1h-2zM483 241h2v1h-2zM480 242h3v1h-3zM478 243h2v1h-2zM476 244h2v1h-2zM474 245h2v1h-2zM471 246h3v1h-3zM468 247h3v1h-3zM465 248h3v1h-3zM463 249h2v1h-2zM460 250h3v1h-3zM457 251h3v1h-3zM453 252h4v1h-4zM448 253h5v1h-5zM443 254h5v1h-5zM438 255h5v1h-5zM433 256h5v1h-5zM429 257h4v1h-4zM425 258h4v1h-4zM421 259h4v1h-4zM416 260h5v1h-5zM412 261h4v1h-4zM112 262h42v1h-42zM407 262h5v1h-5zM108 263h4v1h-4zM154 263h19v1h-19zM358 263h49v1h-49zM88 264h20v1h-20zM173 264h12v1h-12zM317 264h41v1h-41zM79 265h9v1h-9zM185 265h105v1h-105zM308 265h9v1h-9zM72 266h7v1h-7zM290 266h18v1h-18zM66 267h6v1h-6zM57 268h9v1h-9zM51 269h6v1h-6zM48 270h3v1h-3zM46 271h2v1h-2zM35 272h11v1h-11zM34 273h1v1h-1zM17 274h17v1h-17zM14 275h3v1h-3z" fill="#00ff00"/>
<path d="M571 74h1v1h-1zM570 75h1v1h-1zM570 76h1v1h-1zM569 77h1v1h-1zM569 78h1v1h-1zM568 79h1v1h-1zM568 80h1v1h-1zM567 81h1v1h-1zM567 82h1v1h-1zM566 83h1v1h-1zM566 84h1v1h-1zM565 85h1v1h-1zM493 86h1v1h-1zM565 86h1v1h-1zM492 87h1v1h-1zM494 87h2v1h-2zM564 87h1v1h-1zM492 88h1v1h-1zM496 88h1v1h-1zM564 88h1v1h-1zM491 89h1v1h-1zM497 89h2v1h-2zM563 89h1v1h-1zM491 90h1v1h-1zM499 90h1v1h-1zM562 90h1v1h-1zM490 91h1v1h-1zM499 91h1v1h-1zM562 91h1v1h-1zM489 92h1v1h-1zM500 92h1v1h-1zM561 92h1v1h-1zM489 93h1v1h-1zM500 93h1v1h-1zM560 93h1v1h-1zM488 94h1v1h-1zM500 94h1v1h-1zM560 94h1v1h-1zM488 95h1v1h-1zM501 95h1v1h-1zM559 95h1v1h-1zM487 96h1v1h-1zM501 96h1v1h-1zM558 96h1v1h-1zM487 97h1v1h-1zM502 97h1v1h-1zM557 97h1v1h-1zM486 98h1v1h-1zM502 98h1v1h-1zM555 98h2v1h-2zM486 99h1v1h-1zM502 99h1v1h-1zM554 99h1v1h-1zM486 100h1v1h-1zM503 100h1v1h-1zM553 100h1v1h-1zM485 101h1v1h-1zM503 101h1v1h-1zM551 101h2v1h-2zM485 102h1v1h-1zM503 102h1v1h-1zM549 102h2v1h-2zM485 103h1v1h-1zM504 103h1v1h-1zM547 103h2v1h-2zM484 104h1v1h-1zM504 104h1v1h-1zM546 104h1v1h-1zM484 105h1v1h-1zM505 105h1v1h-1zM546 105h1v1h-1zM483 106h1v1h-1zM505 106h1v1h-1zM545 106h1v1h-1zM483 107h1v1h-1zM505 107h1v1h-1zM545 107h1v1h-1zM483 108h1v1h-1zM506 108h1v1h-1zM544 108h1v1h-1zM482 109h1v1h-1zM506 109h1v1h-1zM544 109h1v1h-1zM482 110h1v1h-1zM507 110h1v1h-1zM543 110h1v1h-1zM482 111h1v1h-1zM507 111h1v1h-1zM543 111h1v1h-1zM481 112h1v1h-1zM508 112h1v1h-1zM542 112h1v1h-1zM481 113h1v1h-1zM508 113h1v1h-1zM542 113h1v1h-1zM481 114h1v1h-1zM508 114h1v1h-1zM541 114h1v1h-1zM480 115h1v1h-1zM509 115h1v1h-1zM541 115h1v1h-1zM480 116h1v1h-1zM509 116h1v1h-1zM540 116h1v1h-1zM480 117h1v1h-1zM510 117h1v1h-1zM539 117h1v1h-1zM479 118h1v1h-1zM510 118h1v1h-1zM539 118h1v1h-1zM479 119h1v1h-1zM511 119h1v1h-1zM538 119h1v1h-1zM479 120h1v1h-1zM511 120h1v1h-1zM537 120h1v1h-1zM478 121h1v1h-1zM511 121h1v1h-1zM536 121h1v1h-1zM478 122h1v1h-1zM512 122h1v1h-1zM536 122h1v1h-1zM477 123h1v1h-1zM512 123h1v1h-1zM535 123h1v1h-1zM477 124h1v1h-1zM513 124h1v1h-1zM534 124h1v1h-1zM477 125h1v1h-1zM513 125h1v1h-1zM533 125h1v1h-1zM476 126h1v1h-1zM514 126h1v1h-1zM533 126h1v1h-1zM476 127h1v1h-1zM514 127h1v1h-1zM532 127h1v1h-1zM476 128h1v1h-1zM515 128h1v1h-1zM531 128h1v1h-1zM475 129h1v1h-1zM515 129h1v1h-1zM530 129h1v1h-1zM475 130h1v1h-1zM516 130h1v1h-1zM530 130h1v1h-1zM475 131h1v1h-1zM516 131h1v1h-1zM529 131h1v1h-1zM475 132h1v1h-1zM517 132h1v1h-1zM528 132h1v1h-1zM474 133h1v1h-1zM518 133h2v1h-2zM527 133h1v1h-1zM474 134h1v1h-1zM520 134h1v1h-1zM525 134h2v1h-2zM474 135h1v1h-1zM521 135h2v1h-2zM524 135h1v1h-1zM474 136h1v1h-1zM523 136h1v1h-1zM474 137h1v1h-1zM474 138h1v1h-1zM473 139h1v1h-1zM473 140h1v1h-1zM473 141h1v1h-1zM473 142h1v1h-1zM473 143h1v1h-1zM473 144h1v1h-1zM472 145h1v1h-1zM472 146h1v1h-1zM472 147h1v1h-1zM472 148h1v1h-1zM472 149h1v1h-1zM471 150h1v1h-1zM471 151h1v1h-1zM471 152h1v1h-1zM471 153h1v1h-1zM471 154h1v1h-1zM471 155h1v1h-1zM470 156h1v1h-1zM470 157h1v1h-1zM470 158h1v1h-1zM470 159h1v1h-1zM470 160h1v1h-1zM470 161h1v1h-1zM469 162h1v1h-1zM469 163h1v1h-1zM469 164h1v1h-1zM469 165h1v1h-1zM468 166h1v1h-1zM468 167h1v1h-1zM468 168h1v1h-1zM467 169h1v1h-1zM467 170h1v1h-1zM467 171h1v1h-1zM467 172h1v1h-1zM466 173h1v1h-1zM466 174h1v1h-1zM466 175h1v1h-1zM465 176h1v1h-1zM465 177h1v1h-1zM465 178h1v1h-1zM464 179h1v1h-1zM464 180h1v1h-1zM464 181h1v1h-1zM464 182h1v1h-1zM463 183h1v1h-1zM463 184h1v1h-1zM462 185h1v1h-1zM462 186h1v1h-1zM461 187h1v1h-1zM460 188h1v1h-1zM460 189h1v1h-1zM459 190h1v1h-1zM458 191h1v1h-1zM458 192h1v1h-1zM457 193h1v1h-1zM456 194h1v1h-1zM455 195h1v1h-1zM433 196h4v1h-4zM453 196h2v1h-2zM432 197h1v1h-1zM437 197h3v1h-3zM452 197h1v1h-1zM432 198h1v1h-1zM440 198h1v1h-1zM451 198h1v1h-1zM431 199h1v1h-1zM441 199h1v1h-1zM450 199h1v1h-1zM431 200h1v1h-1zM442 200h1v1h-1zM449 200h1v1h-1zM430 201h1v1h-1zM443 201h1v1h-1zM447 201h2v1h-2zM430 202h1v1h-1zM444 202h1v1h-1zM446 202h1v1h-1zM429 203h1v1h-1zM445 203h1v1h-1zM429 204h1v1h-1zM428 205h1v1h-1zM428 206h1v1h-1zM427 207h1v1h-1zM427 208h1v1h-1zM426 209h1v1h-1zM426 210h1v1h-1zM425 211h1v1h-1zM425 212h1v1h-1zM424 213h1v1h-1zM361 214h4v1h-4zM423 214h1v1h-1zM360 215h1v1h-1zM365 215h3v1h-3zM423 215h1v1h-1zM359 216h1v1h-1zM368 216h1v1h-1zM422 216h1v1h-1zM358 217h1v1h-1zM368 217h1v1h-1zM422 217h1v1h-1zM357 218h1v1h-1zM369 218h1v1h-1zM421 218h1v1h-1zM356 219h1v1h-1zM369 219h1v1h-1zM420 219h1v1h-1zM355 220h1v1h-1zM370 220h1v1h-1zM420 220h1v1h-1zM353 221h2v1h-2zM371 221h1v1h-1zM419 221h1v1h-1zM352 222h1v1h-1zM371 222h1v1h-1zM419 222h1v1h-1zM350 223h2v1h-2zM372 223h1v1h-1zM418 223h1v1h-1zM347 224h3v1h-3zM372 224h1v1h-1zM418 224h1v1h-1zM342 225h5v1h-5zM373 225h1v1h-1zM417 225h1v1h-1zM325 226h4v1h-4zM339 226h3v1h-3zM373 226h1v1h-1zM417 226h1v1h-1zM324 227h1v1h-1zM329 227h10v1h-10zM374 227h1v1h-1zM416 227h1v1h-1zM323 228h1v1h-1zM374 228h1v1h-1zM416 228h1v1h-1zM322 229h1v1h-1zM375 229h1v1h-1zM415 229h1v1h-1zM322 230h1v1h-1zM375 230h1v1h-1zM415 230h1v1h-1zM321 231h1v1h-1zM376 231h1v1h-1zM414 231h1v1h-1zM320 232h1v1h-1zM376 232h1v1h-1zM414 232h1v1h-1zM319 233h1v1h-1zM376 233h1v1h-1zM413 233h1v1h-1zM318 234h1v1h-1zM377 234h1v1h-1zM413 234h1v1h-1zM318 235h1v1h-1zM377 235h1v1h-1zM412 235h1v1h-1zM317 236h1v1h-1zM378 236h1v1h-1zM412 236h1v1h-1zM317 237h1v1h-1zM378 237h1v1h-1zM411 237h1v1h-1zM316 238h1v1h-1zM379 238h1v1h-1zM411 238h1v1h-1zM316 239h1v1h-1zM379 239h1v1h-1zM410 239h1v1h-1zM315 240h1v1h-1zM380 240h1v1h-1zM410 240h1v1h-1zM73 241h7v1h-7zM315 241h1v1h-1zM380 241h1v1h-1zM409 241h1v1h-1zM72 242h1v1h-1zM80 242h1v1h-1zM314 242h1v1h-1zM381 242h1v1h-1zM409 242h1v1h-1zM71 243h1v1h-1zM81 243h2v1h-2zM314 243h1v1h-1zM381 243h1v1h-1zM408 243h1v1h-1zM70 244h1v1h-1zM83 244h1v1h-1zM313 244h1v1h-1zM382 244h1v1h-1zM408 244h1v1h-1zM70 245h1v1h-1zM84 245h1v1h-1zM312 245h1v1h-1zM383 245h1v1h-1zM407 245h1v1h-1zM69 246h1v1h-1zM85 246h1v1h-1zM311 246h1v1h-1zM383 246h1v1h-1zM407 246h1v1h-1zM68 247h1v1h-1zM86 247h1v1h-1zM309 247h2v1h-2zM384 247h1v1h-1zM406 247h1v1h-1zM67 248h1v1h-1zM86 248h1v1h-1zM308 248h1v1h-1zM384 248h1v1h-1zM406 248h1v1h-1zM65 249h2v1h-2zM87 249h1v1h-1zM307 249h1v1h-1zM385 249h1v1h-1zM405 249h1v1h-1zM63 250h2v1h-2zM88 250h1v1h-1zM306 250h1v1h-1zM386 250h1v1h-1zM405 250h1v1h-1zM61 251h2v1h-2zM89 251h1v1h-1zM305 251h1v1h-1zM386 251h1v1h-1zM404 251h1v1h-1zM60 252h1v1h-1zM89 252h1v1h-1zM229 252h7v1h-7zM304 252h1v1h-1zM387 252h1v1h-1zM404 252h1v1h-1zM59 253h1v1h-1zM90 253h1v1h-1zM227 253h2v1h-2zM236 253h1v1h-1zM304 253h1v1h-1zM388 253h1v1h-1zM403 253h1v1h-1zM58 254h1v1h-1zM91 254h1v1h-1zM225 254h2v1h-2zM237 254h1v1h-1zM303 254h1v1h-1zM388 254h1v1h-1zM403 254h1v1h-1zM57 255h1v1h-1zM92 255h1v1h-1zM223 255h2v1h-2zM238 255h1v1h-1zM302 255h1v1h-1zM389 255h1v1h-1zM402 255h1v1h-1zM56 256h1v1h-1zM93 256h2v1h-2zM222 256h1v1h-1zM238 256h1v1h-1zM301 256h1v1h-1zM390 256h1v1h-1zM401 256h1v1h-1zM53 257h3v1h-3zM95 257h1v1h-1zM221 257h1v1h-1zM239 257h1v1h-1zM300 257h1v1h-1zM390 257h1v1h-1zM399 257h2v1h-2zM48 258h5v1h-5zM96 258h1v1h-1zM219 258h2v1h-2zM240 258h1v1h-1zM300 258h1v1h-1zM391 258h4v1h-4zM398 258h1v1h-1zM45 259h3v1h-3zM97 259h1v1h-1zM218 259h1v1h-1zM241 259h2v1h-2zM299 259h1v1h-1zM395 259h3v1h-3zM37 260h8v1h-8zM98 260h1v1h-1zM217 260h1v1h-1zM243 260h2v1h-2zM298 260h1v1h-1zM36 261h1v1h-1zM99 261h1v1h-1zM216 261h1v1h-1zM245 261h2v1h-2zM298 261h1v1h-1zM36 262h1v1h-1zM100 262h1v1h-1zM215 262h1v1h-1zM247 262h2v1h-2zM297 262h1v1h-1zM35 263h1v1h-1zM100 263h1v1h-1zM213 263h2v1h-2zM249 263h2v1h-2zM296 263h1v1h-1zM34 264h1v1h-1zM101 264h1v1h-1zM212 264h1v1h-1zM251 264h2v1h-2zM296 264h1v1h-1zM34 265h1v1h-1zM102 265h1v1h-1zM114 265h8v1h-8zM211 265h1v1h-1zM253 265h1v1h-1zM294 265h2v1h-2zM33 266h1v1h-1zM103 266h4v1h-4zM111 266h3v1h-3zM122 266h1v1h-1zM210 266h1v1h-1zM254 266h1v1h-1zM291 266h3v1h-3zM32 267h1v1h-1zM107 267h4v1h-4zM123 267h1v1h-1zM209 267h1v1h-1zM255 267h1v1h-1zM288 267h3v1h-3zM32 268h1v1h-1zM124 268h1v1h-1zM208 268h1v1h-1zM256 268h1v1h-1zM285 268h3v1h-3zM31 269h1v1h-1zM125 269h1v1h-1zM208 269h1v1h-1zM257 269h1v1h-1zM283 269h2v1h-2zM30 270h1v1h-1zM126 270h1v1h-1zM207 270h1v1h-1zM258 270h1v1h-1zM281 270h2v1h-2zM30 271h1v1h-1zM127 271h2v1h-2zM206 271h1v1h-1zM259 271h2v1h-2zM280 271h1v1h-1zM29 272h1v1h-1zM129 272h3v1h-3zM205 272h1v1h-1zM261 272h3v1h-3zM269 272h6v1h-6zM278 272h2v1h-2zM29 273h1v1h-1zM132 273h2v1h-2zM204 273h1v1h-1zM264 273h5v1h-5zM275 273h3v1h-3zM28 274h1v1h-1zM134 274h1v1h-1zM203 274h1v1h-1zM28 275h1v1h-1zM135 275h1v1h-1zM202 275h1v1h-1zM27 276h1v1h-1zM136 276h1v1h-1zM201 276h1v1h-1zM27 277h1v1h-1zM137 277h1v1h-1zM200 277h1v1h-1zM26 278h1v1h-1zM138 278h1v1h-1zM199 278h1v1h-1zM26 279h1v1h-1zM139 279h1v1h-1zM198 279h1v1h-1zM25 280h1v1h-1zM140 280h1v1h-1zM197 280h1v1h-1zM25 281h1v1h-1zM140 281h1v1h-1zM197 281h1v1h-1zM24 282h1v1h-1zM141 282h1v1h-1zM196 282h1v1h-1zM23 283h1v1h-1zM142 283h1v1h-1zM195 283h1v1h-1zM23 284h1v1h-1zM143 284h1v1h-1zM194 284h1v1h-1zM22 285h1v1h-1zM143 285h1v1h-1zM194 285h1v1h-1zM21 286h1v1h-1zM144 286h1v1h-1zM193 286h1v1h-1zM20 287h1v1h-1zM145 287h1v1h-1zM192 287h1v1h-1zM20 288h1v1h-1zM146 288h1v1h-1zM191 288h1v1h-1zM19 289h1v1h-1zM147 289h1v1h-1zM190 289h1v1h-1zM17 290h2v1h-2zM148 290h1v1h-1zM190 290h1v1h-1zM16 291h1v1h-1zM149 291h1v1h-1zM189 291h1v1h-1zM14 292h2v1h-2zM150 292h1v1h-1zM188 292h1v1h-1zM13 293h1v1h-1zM151 293h4v1h-4zM187 293h1v1h-1zM155 294h3v1h-3zM186 294h1v1h-1zM158 295h1v1h-1zM185 295h1v1h-1zM159 296h1v1h-1zM183 296h2v1h-2zM160 297h1v1h-1zM182 297h1v1h-1zM160 298h1v1h-1zM181 298h1v1h-1zM161 299h1v1h-1zM180 299h1v1h-1zM162 300h1v1h-1zM179 300h1v1h-1zM163 301h2v1h-2zM177 301h2v1h-2zM165 302h3v1h-3zM176 302h1v1h-1zM168 303h8v1h-8z" fill="#ff0080"/>
<rect x="354" y="25" width="1" height="299" fill="#808080"/>
<rect x="354" y="328" width="1" height="153" fill="#808080"/>
<rect x="9" y="147" width="589" height="1" fill="#808080"/>
<rect x="354" y="387" width="1" height="94" fill="#ffff80"/>
<rect x="354" y="199" width="1" height="8" fill="#ffffff"/>
<rect x="354" y="435" width="1" height="1" fill="#ff8080"/>
<rect x="354" y="442" width="1" height="1" fill="#7f807f"/>
<rect x="354" y="420" width="1" height="1" fill="#807fff"/>
<rect x="354" y="419" width="1" height="1" fill="#807fff"/>
<rect x="547" y="147" width="1" height="1" fill="#2530b0"/>
<rect x="354" y="247" width="1" height="1" fill="#2530b0"/>
<rect x="354" y="264" width="1" height="1" fill="#7f807f"/>
<rect x="354" y="221" width="1" height="1" fill="#807fff"/>
<rect x="472" y="147" width="1" height="1" fill="#807fff"/>
<rect x="426" y="52" width="171" height="1" fill="#0000ff"/>
<rect x="578" y="46" width="1" height="1" fill="#000"/>
<rect x="577" y="47" width="2" height="1" fill="#000"/>
<rect x="576" y="48" width="1" height="1" fill="#000"/>
<rect x="577" y="48" width="1" height="1" fill="#0000ff"/>
<rect x="578" y="48" width="5" height="1" fill="#000"/>
<rect x="575" y="49" width="1" height="1" fill="#000"/>
<rect x="576" y="49" width="6" height="1" fill="#0000ff"/>
<rect x="582" y="49" width="1" height="1" fill="#000"/>
<rect x="574" y="50" width="1" height="1" fill="#000"/>
<rect x="575" y="50" width="7" height="1" fill="#0000ff"/>
<rect x="582" y="50" width="1" height="1" fill="#000"/>
<rect x="575" y="51" width="1" height="1" fill="#000"/>
<rect x="576" y="51" width="6" height="1" fill="#0000ff"/>
<rect x="582" y="51" width="1" height="1" fill="#000"/>
<rect x="577" y="53" width="2" height="1" fill="#000"/>
<rect x="578" y="54" width="1" height="1" fill="#000"/>
<rect x="9" y="329" width="33" height="11" fill="#ffffff"/>
<rect x="8" y="24" width="591" height="1" fill="#000"/>
<rect x="8" y="24" width="1" height="301" fill="#000"/>
<rect x="598" y="24" width="1" height="301" fill="#000"/>
<rect x="9" y="327" width="589" height="1" fill="#606060"/>
<rect x="8" y="327" width="1" height="155" fill="#000"/>
<rect x="598" y="327" width="1" height="155" fill="#000"/>
<rect x="8" y="481" width="591" height="1" fill="#000"/>
<rect x="599" y="50" width="2" height="1" fill="#000"/>
<rect x="599" y="93" width="2" height="1" fill="#000"/>
<rect x="599" y="138" width="2" height="1" fill="#000"/>
<rect x="599" y="183" width="2" height="1" fill="#000"/>
<rect x="599" y="231" width="2" height="1" fill="#000"/>
<rect x="599" y="280" width="2" height="1" fill="#000"/>
<rect x="599" y="333" width="2" height="1" fill="#000"/>
<rect x="599" y="362" width="2" height="1" fill="#000"/>
<rect x="599" y="392" width="2" height="1" fill="#000"/>
<rect x="599" y="422" width="2" height="1" fill="#000"/>
<rect x="599" y="451" width="2" height="1" fill="#000"/>
<rect x="23" y="482" width="1" height="2" fill="#606060"/>
<rect x="581" y="482" width="1" height="2" fill="#606060"/>
<rect x="598" y="482" width="1" height="2" fill="#606060"/>
<g shape-rendering="geometricPrecision" text-rendering="geometricPrecision" filter="url(#th)">
<text transform="translate(13.7,15) scale(0.83,1)" x="0.00 7.23 14.46 21.69" y="0" class="ax" font-size="12.5">6701</text>
</g>
<g shape-rendering="geometricPrecision" text-rendering="geometricPrecision" filter="url(#th2)">
<text x="94" y="15" class="ax" style="fill:#fff">・</text>
<text x="113.5" y="15" class="ax" style="fill:#fff">NEC</text>
<text x="233" y="15.5" class="ax" textLength="43" lengthAdjust="spacingAndGlyphs" style="fill:#fff">東証1部</text>
</g>
<g shape-rendering="geometricPrecision" text-rendering="geometricPrecision" filter="url(#th)">
<text x="592.5" y="15" class="ax" textLength="24" lengthAdjust="spacingAndGlyphs" >対数</text>
<text transform="translate(611.0,53.1) scale(0.83,1)" x="0.00 7.23 14.46 21.69" y="0" class="ax" font-size="12.5">3500</text>
<text transform="translate(611.0,96.1) scale(0.83,1)" x="0.00 7.23 14.46 21.69" y="0" class="ax" font-size="12.5">3400</text>
<text transform="translate(611.0,141.1) scale(0.83,1)" x="0.00 7.23 14.46 21.69" y="0" class="ax" font-size="12.5">3300</text>
<text transform="translate(611.0,186.1) scale(0.83,1)" x="0.00 7.23 14.46 21.69" y="0" class="ax" font-size="12.5">3200</text>
<text transform="translate(611.0,234.1) scale(0.83,1)" x="0.00 7.23 14.46 21.69" y="0" class="ax" font-size="12.5">3100</text>
<text transform="translate(611.0,283.1) scale(0.83,1)" x="0.00 7.23 14.46 21.69" y="0" class="ax" font-size="12.5">3000</text>
<rect x="603.5" y="139.5" width="32" height="15" fill="#fff" stroke="#000" stroke-width="1" shape-rendering="crispEdges"/>
<text transform="translate(608.0,150.2) scale(0.83,1)" x="0.00 7.23 14.46 21.69" y="0" class="ax" font-size="12.5" style="fill:#0000ff">3279</text>
<text transform="translate(611.0,336.1) scale(0.83,1)" x="0.00 7.23 14.46 21.69" y="0" class="ax" font-size="12.5">2500</text>
<text transform="translate(611.0,365.1) scale(0.83,1)" x="0.00 7.23 14.46 21.69" y="0" class="ax" font-size="12.5">2000</text>
<text transform="translate(611.0,395.1) scale(0.83,1)" x="0.00 7.23 14.46 21.69" y="0" class="ax" font-size="12.5">1500</text>
<text transform="translate(611.0,425.1) scale(0.83,1)" x="0.00 7.23 14.46 21.69" y="0" class="ax" font-size="12.5">1000</text>
<text transform="translate(617.0,454.1) scale(0.83,1)" x="0.00 7.23 14.46" y="0" class="ax" font-size="12.5">500</text>
<text x="10.5" y="337.6" font-size="10px" fill="#000" textLength="30" lengthAdjust="spacingAndGlyphs">売買高</text>
</g>
<g shape-rendering="geometricPrecision" text-rendering="geometricPrecision" filter="url(#th2)">
<text x="85.0" y="68" text-anchor="middle" class="big" style="font-family:'DejaVu Sans','Liberation Sans',sans-serif;font-size:14.5px;stroke-width:0.5px">1</text>
<text x="94.2" y="68" text-anchor="middle" class="big" style="font-family:'DejaVu Sans','Liberation Sans',sans-serif;font-size:14.5px;stroke-width:0.5px">1</text>
<text x="104.6" y="68" text-anchor="middle" class="big" style="font-family:'DejaVu Sans','Liberation Sans',sans-serif;font-size:14.5px;stroke-width:0.5px">/</text>
<text x="114.4" y="68" text-anchor="middle" class="big" style="font-family:'DejaVu Sans','Liberation Sans',sans-serif;font-size:14.5px;stroke-width:0.5px">2</text>
<text x="124.0" y="68" text-anchor="middle" class="big" style="font-family:'DejaVu Sans','Liberation Sans',sans-serif;font-size:14.5px;stroke-width:0.5px">9</text>
<text x="134.0" y="68" text-anchor="middle" class="big" style="font-family:'DejaVu Sans','Liberation Sans',sans-serif;font-size:14.5px;stroke-width:0.5px">(</text>
<text x="142.4" y="68" text-anchor="middle" class="big" style="font-family:'DejaVu Sans','Liberation Sans',sans-serif;font-size:14.5px;stroke-width:0.5px">0</text>
<text x="150.0" y="68" text-anchor="middle" class="big" style="font-family:'DejaVu Sans','Liberation Sans',sans-serif;font-size:14.5px;stroke-width:0.5px">)</text>
<text x="163.2" y="68" text-anchor="middle" class="big" style="font-family:'DejaVu Sans','Liberation Sans',sans-serif;font-size:14.5px;stroke-width:0.5px">3</text>
<text x="173.5" y="68" text-anchor="middle" class="big" style="font-family:'DejaVu Sans','Liberation Sans',sans-serif;font-size:14.5px;stroke-width:0.5px">5</text>
<text x="183.8" y="68" text-anchor="middle" class="big" style="font-family:'DejaVu Sans','Liberation Sans',sans-serif;font-size:14.5px;stroke-width:0.5px">0</text>
<text x="193.8" y="68" text-anchor="middle" class="big" style="font-family:'DejaVu Sans','Liberation Sans',sans-serif;font-size:14.5px;stroke-width:0.5px">0</text>
<text x="204.8" y="68" text-anchor="middle" class="big" style="font-family:'DejaVu Sans','Liberation Sans',sans-serif;font-size:14.5px;stroke-width:0.5px">L</text>
<text x="88.5" y="92.7" text-anchor="middle" class="big" style="font-family:'Noto Sans CJK JP',sans-serif;font-size:19.5px;stroke-width:0.5px">※</text>
<text x="108.5" y="91.0" text-anchor="middle" class="big" style="font-family:'Noto Sans CJK JP',sans-serif;font-size:17px;stroke-width:0.5px">損</text>
<text x="124.9" y="91.0" text-anchor="middle" class="big" style="font-family:'Noto Sans CJK JP',sans-serif;font-size:17px;stroke-width:0.5px">切</text>
<text x="139.7" y="91.0" text-anchor="middle" class="big" style="font-family:'Noto Sans CJK JP',sans-serif;font-size:17px;stroke-width:0.5px">り</text>
<text x="152.0" y="89.8" text-anchor="middle" class="big" style="font-family:'DejaVu Sans','Liberation Sans',sans-serif;font-size:14.5px;stroke-width:0.5px">:</text>
<text x="163.2" y="89.8" text-anchor="middle" class="big" style="font-family:'DejaVu Sans','Liberation Sans',sans-serif;font-size:14.5px;stroke-width:0.5px">3</text>
<text x="173.9" y="89.8" text-anchor="middle" class="big" style="font-family:'DejaVu Sans','Liberation Sans',sans-serif;font-size:14.5px;stroke-width:0.5px">4</text>
<text x="184.5" y="89.8" text-anchor="middle" class="big" style="font-family:'DejaVu Sans','Liberation Sans',sans-serif;font-size:14.5px;stroke-width:0.5px">6</text>
<text x="194.3" y="89.8" text-anchor="middle" class="big" style="font-family:'DejaVu Sans','Liberation Sans',sans-serif;font-size:14.5px;stroke-width:0.5px">0</text>
<text x="208.0" y="91.0" text-anchor="middle" class="big" style="font-family:'Noto Sans CJK JP',sans-serif;font-size:17px;stroke-width:0.5px">円</text>
<text x="88.5" y="115.6" text-anchor="middle" class="big" style="font-family:'Noto Sans CJK JP',sans-serif;font-size:19.5px;stroke-width:0.5px">※</text>
<text x="108.2" y="113.9" text-anchor="middle" class="big" style="font-family:'Noto Sans CJK JP',sans-serif;font-size:17px;stroke-width:0.5px">利</text>
<text x="125.6" y="113.9" text-anchor="middle" class="big" style="font-family:'Noto Sans CJK JP',sans-serif;font-size:17px;stroke-width:0.5px">食</text>
<text x="140.4" y="113.9" text-anchor="middle" class="big" style="font-family:'Noto Sans CJK JP',sans-serif;font-size:17px;stroke-width:0.5px">い</text>
<text x="155.7" y="112.7" text-anchor="middle" class="big" style="font-family:'DejaVu Sans','Liberation Sans',sans-serif;font-size:14.5px;stroke-width:0.5px">:</text>
<text x="166.3" y="112.7" text-anchor="middle" class="big" style="font-family:'DejaVu Sans','Liberation Sans',sans-serif;font-size:14.5px;stroke-width:0.5px">3</text>
<text x="176.4" y="112.7" text-anchor="middle" class="big" style="font-family:'DejaVu Sans','Liberation Sans',sans-serif;font-size:14.5px;stroke-width:0.5px">6</text>
<text x="186.5" y="112.7" text-anchor="middle" class="big" style="font-family:'DejaVu Sans','Liberation Sans',sans-serif;font-size:14.5px;stroke-width:0.5px">0</text>
<text x="196.7" y="112.7" text-anchor="middle" class="big" style="font-family:'DejaVu Sans','Liberation Sans',sans-serif;font-size:14.5px;stroke-width:0.5px">5</text>
<text x="211.0" y="113.9" text-anchor="middle" class="big" style="font-family:'Noto Sans CJK JP',sans-serif;font-size:17px;stroke-width:0.5px">円</text>
</g>
</svg></body></html>
